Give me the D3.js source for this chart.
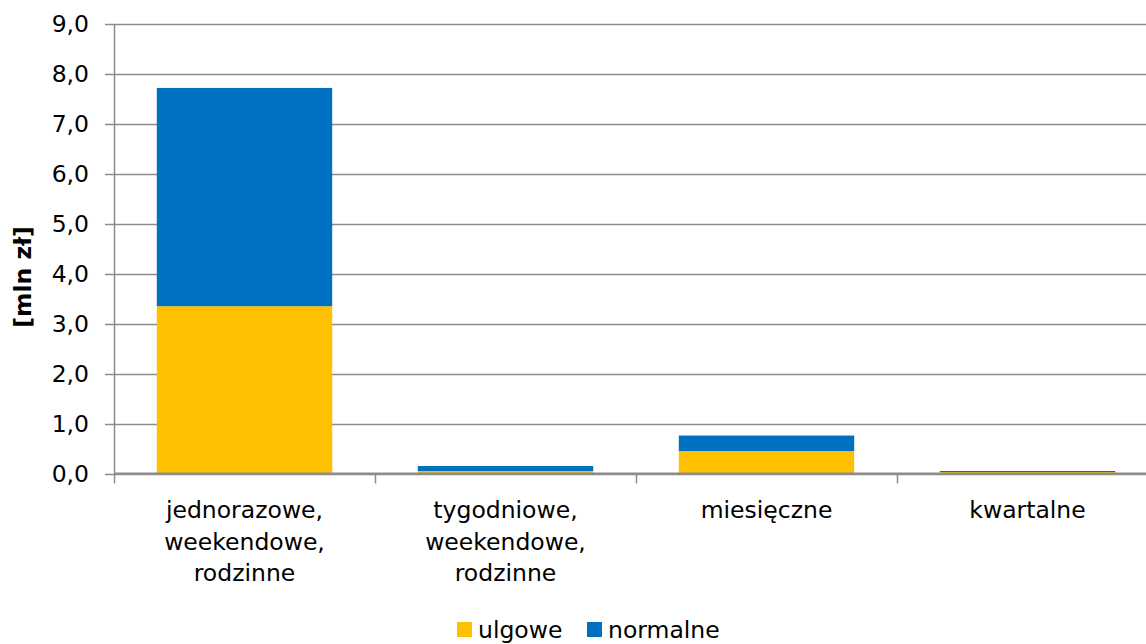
<!DOCTYPE html>
<html><head><meta charset="utf-8">
<script src="https://cdn.jsdelivr.net/npm/d3@7"></script>
<style>body{margin:0;background:#fff}svg{display:block;font-family:"DejaVu Sans",Verdana,sans-serif}</style>
</head><body>
<svg id="c" width="1146" height="644"></svg>
<script>
const categories = [["jednorazowe,","weekendowe,","rodzinne"],["tygodniowe,","weekendowe,","rodzinne"],["miesięczne"],["kwartalne"]];
const ulgowe   = [3.35, 0.05, 0.45, 0.03];
const normalne = [4.37, 0.10, 0.31, 0.02];
const seriesNames = ["ulgowe","normalne"];
const yTicks = [0,1,2,3,4,5,6,7,8,9];
const colors = ["#FFC000","#0070C0"];

const svg = d3.select("#c");
const x0 = 114, x1 = 1158, yTop = 24, yBot = 473.5;
const x = d3.scaleBand().domain(d3.range(categories.length)).range([x0, x1]).padding(0);
const y = d3.scaleLinear().domain([0, 9]).range([yBot, yTop]);
const barW = x.bandwidth() * 0.672;
const FS = 23.5;

// gridlines
svg.append("g").selectAll("line").data(yTicks).join("line")
  .attr("x1", x0 - 9).attr("x2", 1146)
  .attr("y1", d => Math.round(y(d)) + 0.5).attr("y2", d => Math.round(y(d)) + 0.5)
  .attr("stroke", "#8c8c8c").attr("stroke-width", 1.5);

// y tick labels
const fmt = d => d.toFixed(1).replace(".", ",");
svg.append("g").selectAll("text").data(yTicks).join("text")
  .attr("x", 89).attr("y", d => y(d)).attr("dy", "0.35em")
  .attr("text-anchor", "end").attr("font-size", FS).attr("fill", "#000")
  .text(fmt);

// bars
const stack = d3.stack().keys([0,1]).value((d, k) => [ulgowe, normalne][k][d]);
const stacked = stack(d3.range(categories.length));
svg.append("g").selectAll("g").data(stacked).join("g")
  .attr("fill", (d, i) => colors[i])
  .selectAll("rect").data(d => d).join("rect")
  .attr("x", d => x(d.data) + (x.bandwidth() - barW) / 2)
  .attr("width", barW)
  .attr("y", d => y(d[1]))
  .attr("height", d => y(d[0]) - y(d[1]));

// y axis line
svg.append("line").attr("x1", x0 + 0.5).attr("x2", x0 + 0.5).attr("y1", yTop).attr("y2", yBot)
  .attr("stroke", "#8c8c8c").attr("stroke-width", 1.5);
// x axis line
svg.append("line").attr("x1", x0).attr("x2", 1146).attr("y1", yBot).attr("y2", yBot)
  .attr("stroke", "#8c8c8c").attr("stroke-width", 2);
// x ticks at band boundaries
svg.append("g").selectAll("line").data(d3.range(categories.length + 1)).join("line")
  .attr("x1", i => x0 + i * x.step() + 0.5).attr("x2", i => x0 + i * x.step() + 0.5)
  .attr("y1", yBot).attr("y2", yBot + 10)
  .attr("stroke", "#8c8c8c").attr("stroke-width", 1.5);

// category labels
const cl = svg.append("g").selectAll("text").data(categories).join("text")
  .attr("text-anchor", "middle").attr("font-size", FS).attr("fill", "#000")
  .attr("x", (d, i) => x(i) + x.bandwidth() / 2).attr("y", 518);
cl.selectAll("tspan").data(d => d).join("tspan")
  .attr("x", function() { return d3.select(this.parentNode).attr("x"); })
  .attr("dy", (d, i) => i === 0 ? 0 : 31.5).text(d => d);

// y title
svg.append("text").attr("transform", "translate(31,277) rotate(-90)")
  .attr("text-anchor", "middle").attr("font-size", FS).attr("font-weight", "bold")
  .text("[mln zł]");

// legend
const lg = svg.append("g");
const legX = [457, 587];
seriesNames.forEach((n, i) => {
  lg.append("rect").attr("x", legX[i]).attr("y", 622).attr("width", 15).attr("height", 15).attr("fill", colors[i]);
  lg.append("text").attr("x", legX[i] + 21).attr("y", 638).attr("font-size", FS).text(n);
});
</script>
</body></html>
